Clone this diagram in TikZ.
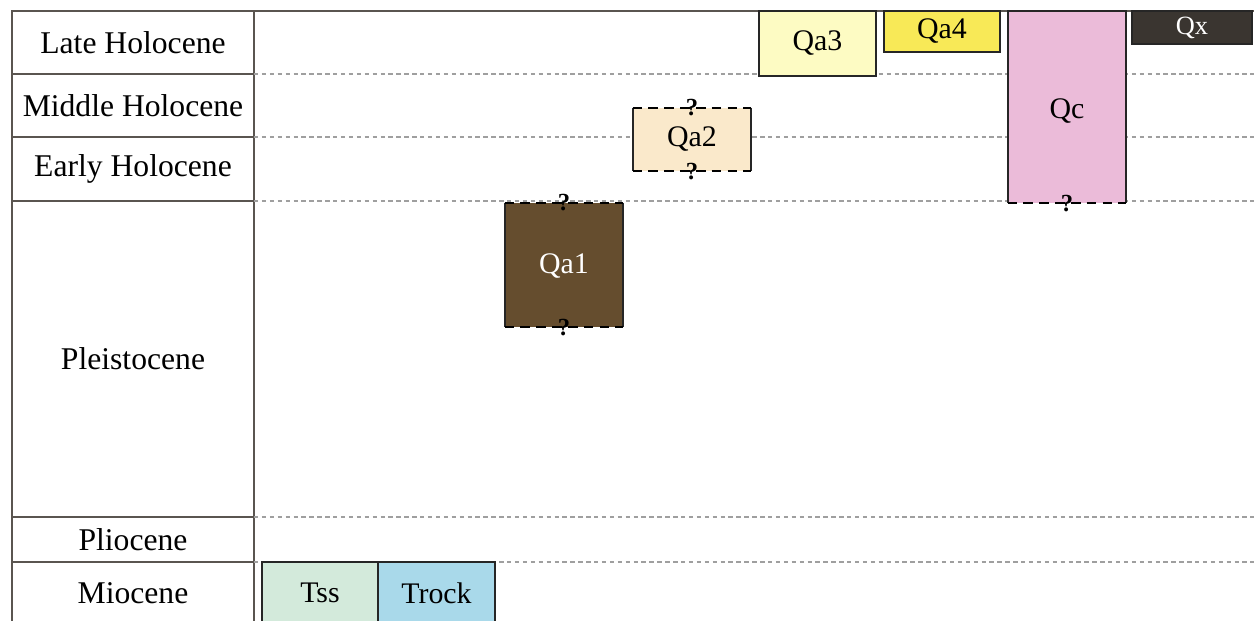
\documentclass[tikz,border=0pt]{standalone}
\usepackage{fontspec}
\setmainfont{Liberation Serif}
\usepackage{xcolor}
\usepackage{tikz}
\usetikzlibrary{positioning}

\definecolor{qaone}{HTML}{654D2E}
\definecolor{qatwo}{HTML}{FAE9CB}
\definecolor{qathree}{HTML}{FDFBC3}
\definecolor{qafour}{HTML}{F8E957}
\definecolor{qcpink}{HTML}{EBBBD9}
\definecolor{qxdark}{HTML}{3A3530}
\definecolor{tssgreen}{HTML}{D3EADB}
\definecolor{trockblue}{HTML}{A9D9EA}
\definecolor{tblgray}{HTML}{5A5550}

\begin{document}
\begin{tikzpicture}[
  era/.style={
    font=\fontsize{18}{21}\selectfont,
    align=center
  },
  unit/.style={
    draw=black!85,
    line width=1.1pt,
    inner sep=0pt,
    font=\fontsize{17}{20}\selectfont
  },
  open/.style={
    inner sep=0pt,
    font=\fontsize{17}{20}\selectfont
  },
  solidedge/.style={
    draw=black!85,
    line width=1.1pt
  },
  uncertain/.style={
    line width=1.3pt,
    dash pattern=on 5.5pt off 3.5pt
  },
  qmark/.style={
    font=\fontsize{14}{14}\selectfont\bfseries,
    inner sep=0pt
  },
  tbl/.style={
    draw=tblgray,
    line width=0.8pt
  },
  grid/.style={
    draw=gray!75,
    line width=0.6pt,
    dash pattern=on 2.5pt off 2pt
  }
]
\clip (0,0) rectangle (25.08,-12.42);

%---------------------------------
% Time scale table
%---------------------------------
\draw[tbl] (0.24,-12.6) -- (0.24,-0.22) -- (25.08,-0.22);
\draw[tbl] (5.08,-0.22) -- (5.08,-12.6);
\foreach \y in {-1.48,-2.74,-4.02,-10.34,-11.24}{
  \draw[tbl] (0.24,\y) -- (5.08,\y);
  \draw[grid] (5.08,\y) -- (25.08,\y);
}

\node[era] (late)   at (2.66,-0.85)  {Late Holocene};
\node[era] (middle) at (2.66,-2.11)  {Middle Holocene};
\node[era] (early)  at (2.66,-3.38)  {Early Holocene};
\node[era] (pleist) at (2.66,-7.18)  {Pleistocene};
\node[era] (plio)   at (2.66,-10.79) {Pliocene};
\node[era] (mio)    at (2.66,-11.86) {Miocene};

%---------------------------------
% Units with firm limits
%---------------------------------
\node[unit, fill=qathree, minimum width=2.34cm, minimum height=1.30cm]
  (qa3) at (16.35,-0.87) {Qa3};
\node[unit, fill=qafour, minimum width=2.32cm, minimum height=0.82cm]
  (qa4) at (18.84,-0.63) {Qa4};
\node[unit, fill=qxdark, text=white, minimum width=2.40cm, minimum height=0.66cm,
  font=\fontsize{15}{17}\selectfont]
  (qx) at (23.84,-0.55) {Qx};
\node[unit, fill=tssgreen, minimum width=2.32cm, minimum height=1.24cm]
  (tss) at (6.40,-11.86) {Tss};
\node[unit, fill=trockblue, minimum width=2.34cm, minimum height=1.24cm]
  (trock) at (8.73,-11.86) {Trock};

%---------------------------------
% Units with uncertain limits
%---------------------------------
\node[open, fill=qcpink, minimum width=2.36cm, minimum height=3.84cm]
  (qc) at (21.34,-2.14) {};
\node[open] (qclabel) at (21.34,-2.22) {Qc};
\draw[solidedge] (qc.south west) -- (qc.north west) -- (qc.north east) -- (qc.south east);
\draw[uncertain] (qc.south west) -- (qc.south east);
\node[qmark] (qcbot) at (qc.south) {?};

\node[open, fill=qatwo, minimum width=2.36cm, minimum height=1.26cm]
  (qa2) at (13.84,-2.79) {Qa2};
\draw[solidedge] (qa2.north west) -- (qa2.south west);
\draw[solidedge] (qa2.north east) -- (qa2.south east);
\draw[uncertain] (qa2.north west) -- (qa2.north east);
\draw[uncertain] (qa2.south west) -- (qa2.south east);
\node[qmark] (qa2top) at (qa2.north) {?};
\node[qmark] (qa2bot) at (qa2.south) {?};

\node[open, fill=qaone, minimum width=2.36cm, minimum height=2.48cm]
  (qa1) at (11.28,-5.30) {};
\node[open, text=white] (qa1label) at (11.28,-5.32) {Qa1};
\draw[solidedge] (qa1.north west) -- (qa1.south west);
\draw[solidedge] (qa1.north east) -- (qa1.south east);
\draw[uncertain] (qa1.north west) -- (qa1.north east);
\draw[uncertain] (qa1.south west) -- (qa1.south east);
\node[qmark] (qa1top) at (qa1.north) {?};
\node[qmark] (qa1bot) at (qa1.south) {?};

\end{tikzpicture}
\end{document}
